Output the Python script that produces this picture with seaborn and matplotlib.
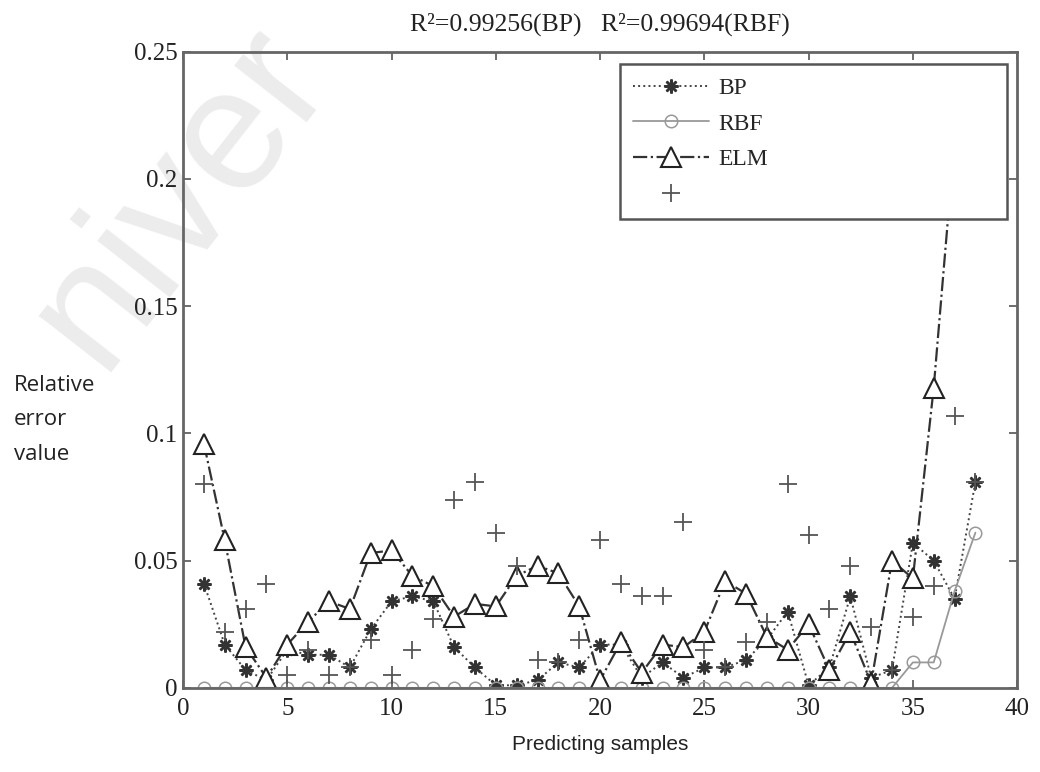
import numpy as np
import pandas as pd
import matplotlib
matplotlib.use("Agg")
import matplotlib.pyplot as plt
import seaborn as sns

# relative error per predicting sample
samples = list(range(1, 39))
bp = [0.041, 0.017, 0.007, 0.003, 0.015, 0.013, 0.013, 0.008, 0.023, 0.034,
      0.036, 0.034, 0.016, 0.008, 0.001, 0.001, 0.003, 0.010, 0.008, 0.017,
      0.017, 0.004, 0.010, 0.004, 0.008, 0.008, 0.011, 0.019, 0.030, 0.001,
      0.008, 0.036, 0.004, 0.007, 0.057, 0.050, 0.035, 0.081]
rbf = [0.0] * 34 + [0.010, 0.010, 0.038, 0.061]
elm = [0.096, 0.058, 0.016, 0.004, 0.017, 0.026, 0.034, 0.031, 0.053, 0.054,
       0.044, 0.040, 0.028, 0.033, 0.032, 0.044, 0.048, 0.045, 0.032, 0.003,
       0.018, 0.006, 0.017, 0.016, 0.022, 0.042, 0.037, 0.020, 0.015, 0.025,
       0.007, 0.022, 0.002, 0.050, 0.043, 0.118, 0.215, 0.230]
plus = [0.080, 0.022, 0.031, 0.041, 0.005, 0.015, 0.005, 0.008, 0.019, 0.005,
        0.015, 0.027, 0.074, 0.081, 0.061, 0.048, 0.011, 0.010, 0.019, 0.058,
        0.041, 0.036, 0.036, 0.065, 0.015, 0.008, 0.018, 0.026, 0.080, 0.060,
        0.031, 0.048, 0.024, 0.007, 0.028, 0.040, 0.107, 0.081]
legend_labels = ["BP", "RBF", "ELM", " "]

df = pd.DataFrame({"sample": samples, "BP": bp, "RBF": rbf, "ELM": elm, "plus": plus})

sns.set_style("ticks")
plt.rcParams["font.family"] = ["Liberation Serif", "DejaVu Serif"]

fig = plt.figure(figsize=(10.4, 7.72), dpi=100)
ax = fig.add_axes([0.176, 0.109, 0.802, 0.824])
ax.patch.set_alpha(0)

# faint watermark behind everything
fig.text(0.0, 0.535, "niver", fontsize=125, color="#ececec", rotation=52,
         family="Liberation Sans", zorder=-5)

sns.lineplot(data=df, x="sample", y="BP", ax=ax, color="#444444", linestyle=":",
             linewidth=1.4, marker=(8, 2, 0), markersize=10,
             markeredgecolor="#333333", markeredgewidth=1.8)
sns.lineplot(data=df, x="sample", y="RBF", ax=ax, color="#999999", linestyle="-",
             linewidth=1.3, marker="o", markersize=9, markerfacecolor="none",
             markeredgecolor="#999999", markeredgewidth=1.1)
sns.lineplot(data=df, x="sample", y="ELM", ax=ax, color="#333333", linestyle="-.",
             linewidth=1.6, marker="^", markersize=14, markerfacecolor="white",
             markeredgecolor="#222222", markeredgewidth=1.5)
sns.lineplot(data=df, x="sample", y="plus", ax=ax, color="#555555", linestyle="none",
             marker="+", markersize=13, markeredgecolor="#555555", markeredgewidth=1.3)

ax.set_xlim(0, 40)
ax.set_ylim(0, 0.25)
ax.set_xticks([0, 5, 10, 15, 20, 25, 30, 35, 40])
ax.set_yticks([0, 0.05, 0.1, 0.15, 0.2, 0.25])
ax.set_yticklabels(["0", "0.05", "0.1", "0.15", "0.2", "0.25"])
ax.tick_params(direction="in", top=True, right=True, length=6, width=1.2,
               labelsize=18, color="#555555", labelcolor="#222222")
ax.tick_params(axis="x", pad=7)
ax.tick_params(axis="y", pad=4)
for sp in ax.spines.values():
    sp.set_color("#666666")
    sp.set_linewidth(2)

ax.set_xlabel("")
ax.set_ylabel("")
fig.text(0.577, 0.035, "Predicting samples", fontsize=15, family="Liberation Sans",
         color="#222222", ha="center", va="center")
fig.text(0.013, 0.456, "Relative\nerror\nvalue", fontsize=16, family="Open Sans",
         color="#222222", ha="left", va="center", linespacing=1.85)
fig.text(0.577, 0.968, "R²=0.99256(BP)   R²=0.99694(RBF)", fontsize=18.5,
         ha="center", va="center", color="#222222")

leg = ax.legend(ax.lines[:4], legend_labels, loc="upper left",
                bbox_to_anchor=(0.524, 0.98, 0.464, 0.0), mode="expand",
                borderaxespad=0, fontsize=17, frameon=True, fancybox=False,
                framealpha=1, edgecolor="#555555", handlelength=3.2,
                labelspacing=0.6, borderpad=0.55, handletextpad=0.4)
leg.get_frame().set_linewidth(1.8)
leg.set_zorder(10)

fig.savefig("out.png", dpi=100)
